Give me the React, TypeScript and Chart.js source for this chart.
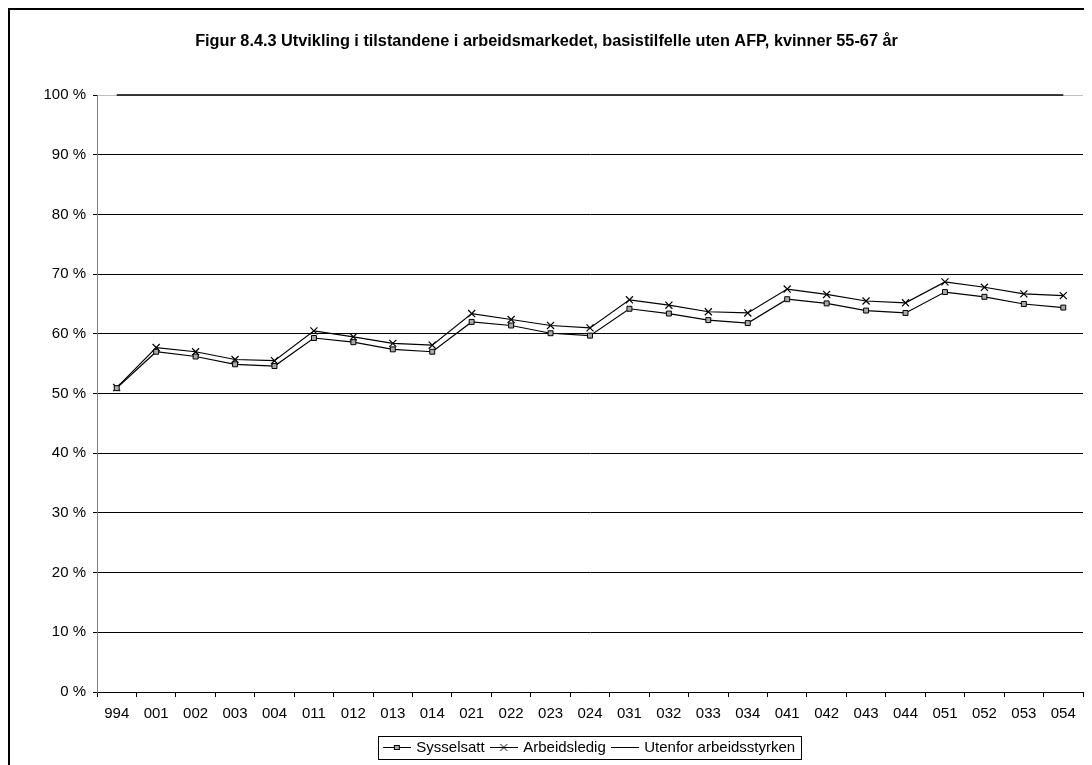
import React, { useEffect, useRef } from "react";
import { Chart, registerables } from "chart.js";

Chart.register(...registerables);

const TITLE = "Figur 8.4.3 Utvikling i tilstandene i arbeidsmarkedet, basistilfelle uten AFP, kvinner 55-67 år";

const categories = [
  "994", "001", "002", "003", "004", "011", "012", "013", "014",
  "021", "022", "023", "024", "031", "032", "033", "034",
  "041", "042", "043", "044", "051", "052", "053", "054",
];

const sysselsatt = [
  50.9, 57.0, 56.2, 54.9, 54.6, 59.3, 58.6, 57.4, 57.0,
  62.0, 61.4, 60.1, 59.7, 64.2, 63.4, 62.3, 61.8,
  65.8, 65.1, 63.9, 63.5, 67.0, 66.2, 65.0, 64.4,
];

const arbeidsledig = [
  51.0, 57.7, 57.0, 55.7, 55.5, 60.5, 59.5, 58.4, 58.1,
  63.4, 62.4, 61.4, 61.0, 65.7, 64.8, 63.7, 63.5,
  67.5, 66.6, 65.5, 65.2, 68.7, 67.8, 66.7, 66.4,
];

const utenfor = [
  100, 100, 100, 100, 100, 100, 100, 100, 100,
  100, 100, 100, 100, 100, 100, 100, 100,
  100, 100, 100, 100, 100, 100, 100, 100,
];

const seriesNames = ["Sysselsatt", "Arbeidsledig", "Utenfor arbeidsstyrken"];
const yTicks = [0, 10, 20, 30, 40, 50, 60, 70, 80, 90, 100];

const FONT = "'Liberation Sans', Arial, Helvetica, sans-serif";

function makeMarker(kind: "square" | "cross" | "line"): HTMLCanvasElement {
  const c = document.createElement("canvas");
  c.width = 28;
  c.height = 11;
  const ctx = c.getContext("2d")!;
  ctx.strokeStyle = "#000";
  ctx.lineWidth = 1;
  ctx.beginPath();
  ctx.moveTo(0, 5.5);
  ctx.lineTo(28, 5.5);
  ctx.stroke();
  if (kind === "square") {
    ctx.fillStyle = "#aaa";
    ctx.fillRect(11.5, 3.5, 5, 4);
    ctx.strokeRect(11.5, 3.5, 5, 4);
  } else if (kind === "cross") {
    ctx.beginPath();
    ctx.moveTo(10.5, 2);
    ctx.lineTo(17.5, 9);
    ctx.moveTo(17.5, 2);
    ctx.lineTo(10.5, 9);
    ctx.stroke();
  }
  return c;
}

const legendBorder = {
  id: "legendBorder",
  afterDraw(chart: any) {
    const lg = chart.legend;
    const hbs = lg && lg.legendHitBoxes;
    if (!hbs || !hbs.length) return;
    const ctx = chart.ctx;
    const left = Math.min(...hbs.map((h: any) => h.left)) - 7;
    const right = Math.max(...hbs.map((h: any) => h.left + h.width)) + 6;
    const top = Math.min(...hbs.map((h: any) => h.top)) - 4;
    const bottom = Math.max(...hbs.map((h: any) => h.top + h.height)) + 4;
    ctx.save();
    ctx.strokeStyle = "#000";
    ctx.lineWidth = 1;
    ctx.strokeRect(Math.round(left) + 0.5, Math.round(top) + 0.5, Math.round(right - left), Math.round(bottom - top));
    ctx.restore();
  },
};

export default function App() {
  const canvasRef = useRef<HTMLCanvasElement | null>(null);

  useEffect(() => {
    document.documentElement.style.overflow = "hidden";
    document.body.style.overflow = "hidden";
    const canvas = canvasRef.current;
    if (!canvas) return;
    const markers = [makeMarker("square"), makeMarker("cross"), makeMarker("line")];

    const chart = new Chart(canvas, {
      type: "line",
      data: {
        labels: categories,
        datasets: [
          {
            label: seriesNames[0],
            data: sysselsatt,
            borderColor: "#000",
            borderWidth: 1.2,
            pointStyle: "rect",
            pointRadius: 3.5,
            pointBackgroundColor: "#aaa",
            pointBorderColor: "#000",
            pointBorderWidth: 1,
            tension: 0,
          },
          {
            label: seriesNames[1],
            data: arbeidsledig,
            borderColor: "#000",
            borderWidth: 1.2,
            pointStyle: "crossRot",
            pointRadius: 5,
            pointBorderColor: "#000",
            pointBorderWidth: 1.2,
            tension: 0,
          },
          {
            label: seriesNames[2],
            data: utenfor,
            borderColor: "#000",
            borderWidth: 1.5,
            pointRadius: 0,
            tension: 0,
            clip: false,
          },
        ],
      },
      options: {
        responsive: false,
        animation: false,
        devicePixelRatio: 1,
        layout: { padding: { left: 0, right: 17, top: 0, bottom: 0 } },
        plugins: {
          tooltip: { enabled: false },
          title: {
            display: true,
            text: TITLE,
            color: "#000",
            font: { family: FONT, size: 16.3, weight: "bold" },
            padding: { top: 22, bottom: 43.5 },
          },
          legend: {
            display: true,
            position: "bottom",
            fullSize: false,
            labels: {
              color: "#000",
              font: { family: FONT, size: 15 },
              usePointStyle: true,
              pointStyleWidth: 24,
              padding: 7,
              generateLabels: () =>
                seriesNames.map((name, i) => ({
                  text: name,
                  pointStyle: markers[i] as any,
                  fillStyle: "#000",
                  strokeStyle: "#000",
                  lineWidth: 0,
                  hidden: false,
                  datasetIndex: i,
                  fontColor: "#000",
                })),
            },
          },
        },
        scales: {
          x: {
            type: "category",
            offset: true,
            grid: {
              offset: true,
              drawOnChartArea: false,
              drawTicks: true,
              tickLength: 5,
              color: "#000",
            },
            border: { color: "#000" },
            ticks: {
              color: "#000",
              font: { family: FONT, size: 15 },
              padding: 8,
              maxRotation: 0,
              autoSkip: false,
            },
            afterFit: (scale: any) => {
              scale.height = 41;
            },
          },
          y: {
            min: 0,
            max: 100,
            afterBuildTicks: (scale: any) => {
              scale.ticks = yTicks.map((v) => ({ value: v }));
            },
            ticks: {
              color: "#000",
              font: { family: FONT, size: 15 },
              padding: 7,
              callback: (v: any) => `${v} %`,
            },
            grid: {
              color: (ctx: any) => (ctx.tick && ctx.tick.value === 100 ? "#c0c0c0" : "#000"),
              tickColor: "#000",
              tickLength: 4,
            },
            border: { color: "#808080" },
            afterFit: (scale: any) => {
              scale.width = 87;
            },
          },
        },
      },
      plugins: [legendBorder],
    } as any);

    return () => {
      chart.destroy();
    };
  }, []);

  return (
    <div
      style={{
        position: "relative",
        width: 1084,
        height: 757,
        overflow: "hidden",
        borderTop: "2px solid #000",
        borderLeft: "2px solid #000",
        boxSizing: "border-box",
        background: "#fff",
      }}
    >
      <canvas ref={canvasRef} width={1090} height={755} style={{ display: "block" }} />
    </div>
  );
}
